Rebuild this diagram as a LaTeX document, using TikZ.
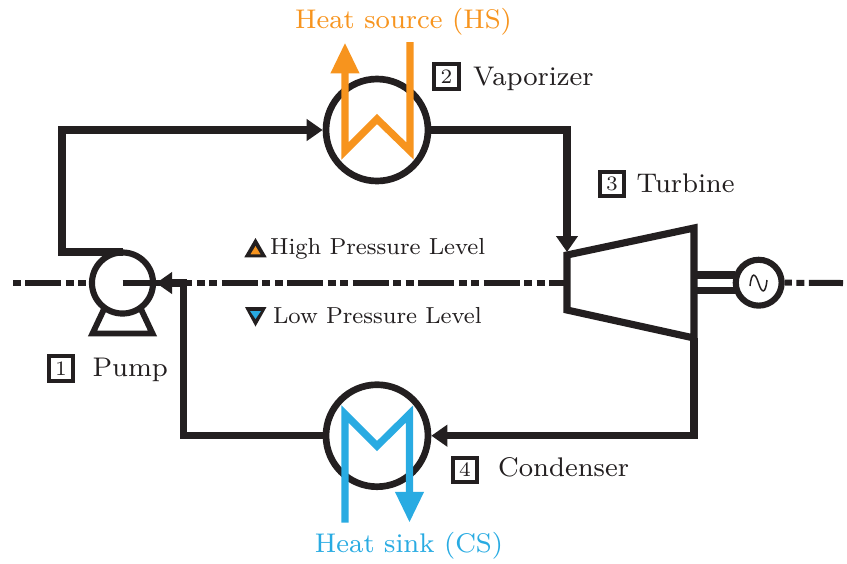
\documentclass[tikz,border=0pt]{standalone}
\usetikzlibrary{arrows.meta,calc}
\definecolor{ink}{HTML}{231F20}
\definecolor{hot}{HTML}{F7941E}
\definecolor{cold}{HTML}{29ABE2}
\tikzset{
  pipe/.style={draw=ink,line width=2.68pt,miter limit=10},
  fluid/.style={line width=2.7pt,miter limit=10},
  flowtip/.style={-{Triangle[length=6pt,width=7.9pt]}},
  fluidtip/.style={-{Triangle[length=11.6pt,width=10.1pt]}},
  exch/.style={circle,draw=ink,fill=white,line width=2.5pt,minimum size=38.25pt,inner sep=0pt},
  pumpc/.style={circle,draw=ink,fill=white,line width=2.3pt,minimum size=22.9pt,inner sep=0pt},
  genc/.style={circle,draw=ink,fill=white,line width=2.3pt,minimum size=17.2pt,inner sep=0pt},
  numbox/.style={rectangle,draw=ink,fill=white,line width=1.5pt,minimum size=9.3pt,inner sep=0pt,text=ink},
  lab/.style={anchor=base west,inner sep=0pt,text=ink,scale=1.265,font=\fontsize{8}{10}\selectfont},
  flab/.style={anchor=base,inner sep=0pt,scale=1.265,font=\fontsize{8}{10}\selectfont},
  smalllab/.style={anchor=base west,inner sep=0pt,text=ink,scale=1.087,font=\fontsize{8}{10}\selectfont},
  numtxt/.style={font=\fontsize{7}{8}\selectfont,scale=1.1,inner sep=0pt,text=ink},
  center line/.style={draw=ink,line width=2.25pt,dash pattern=on 3pt off 1.68pt on 13.5pt off 1.68pt on 3pt off 1.68pt}
}
\begin{document}
\begin{tikzpicture}[x=0.375pt,y=-0.375pt]
\useasboundingbox (0,0) rectangle (847,563);
\coordinate (clstart) at (13,283);
\coordinate (clend) at (843,283);
\coordinate (turbin) at (567,252);
\coordinate (tTL) at (567,255);
\coordinate (tTR) at (694,228);
\coordinate (tBR) at (694,338);
\coordinate (tBL) at (567,310);
\coordinate (tL) at (567,283);
\coordinate (pumptop) at (122.5,252);
\coordinate (pumpmid) at (122.5,283);
\coordinate (cnd) at (183.5,283);

% centre line
\draw[center line] (clstart) -- (tL);

% components
\node[pumpc] (pump) at (122.5,283) {};
\node[exch] (vap) at (377,130) {};
\node[exch] (cond) at (377,435.7) {};
\node[genc] (gen) at (758.7,282.7) {};

\draw[draw=ink,line width=2.25pt,dash pattern=on 2.7pt off 1.68pt on 3pt off 1.68pt on 13.5pt off 5pt] (gen.east) -- (clend);

% pump base
\draw[pipe,line width=2.2pt] (105,307) -- (92.5,333.5) -- (152.5,333.5) -- (140,307);

% turbine
\draw[pipe,fill=white] (tTL) -- (tTR) -- (tBR) -- (tBL) -- cycle;

% shaft
\draw[pipe] (697,275) -- (735,275);
\draw[pipe] (697,290.5) -- (735,290.5);

% sine symbol
\draw[draw=ink,line width=0.55pt] (750,286) .. controls (751.5,272) and (755,272) .. (758.5,283) .. controls (762,294) and (765.5,294) .. (767,280);

% cycle pipes
\draw[pipe,flowtip] (pumptop) -- (62,252) -- (62,130) -- (vap.west);
\draw[pipe,flowtip] (vap.east) -- (567,130) -- (turbin);
\draw[pipe,flowtip] (tBR) -- (694,435.7) -- (cond.east);
\draw[pipe,flowtip] (cond.west) -- (183.5,435.7) -- (cnd) -- (pump.east);
\draw[pipe,line width=2.2pt] (pumpmid) -- (pump.east);

% hot fluid
\draw[hot,fluid,fluidtip] (410,42) -- (410,151) -- (377,119) -- (345,151) -- (345,42.5);
% cold fluid
\draw[cold,fluid,fluidtip] (345,522.7) -- (345,414) -- (377,446) -- (409.5,414) -- (409.5,522.7);

% level markers
\fill[ink] (255.5,238) -- (244.3,257.3) -- (266.7,257.3) -- cycle;
\fill[hot] (255.5,246) -- (250.5,254.3) -- (260.5,254.3) -- cycle;
\fill[ink] (255.5,326.5) -- (245,307) -- (266.5,307) -- cycle;
\fill[cold] (255.5,319) -- (250,311) -- (261,311) -- cycle;

% labels
\node[flab,text=hot] (hs) at (403.5,28) {Heat source (HS)};
\node[flab,text=cold] (cs) at (409,552) {Heat sink (CS)};
\node[numbox] (n1) at (61,368.5) {};
\node[numbox] (n2) at (446.5,76.5) {};
\node[numbox] (n3) at (612,184) {};
\node[numbox] (n4) at (465,470) {};
\node[numtxt] at (n1) {1};
\node[numtxt] at (n2) {2};
\node[numtxt] at (n3) {3};
\node[numtxt] at (n4) {4};
\node[lab] (l1) at (92,376) {Pump};
\node[lab] (l2) at (472.5,85) {Vaporizer};
\node[lab] (l3) at (636,192.5) {Turbine};
\node[lab] (l4) at (497.5,476) {Condenser};
\node[smalllab] (hp) at (269.5,254) {High Pressure Level};
\node[smalllab] (lp) at (272.5,323) {Low Pressure Level};
\end{tikzpicture}
\end{document}
